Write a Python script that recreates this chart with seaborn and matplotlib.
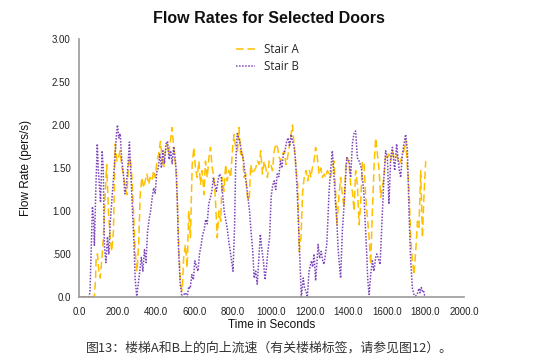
#!/usr/bin/env python
# Flow rates on the two stairs, redrawn with seaborn

import numpy as np
import pandas as pd
import seaborn as sns
import matplotlib.pyplot as plt

# Stair A (yellow, dashed): time in s, flow in pers/s
time_a = [0, 80, 86, 89, 96, 103, 110, 118, 127, 136, 144, 153, 162, 170, 179, 188, 197, 205,
          214, 223, 231, 240, 249, 257, 266, 275, 283, 292, 301, 310, 318, 327, 336, 344, 353,
          362, 370, 379, 388, 396, 405, 414, 423, 431, 440, 449, 457, 466, 475, 483, 492, 501,
          510, 518, 527, 536, 544, 553, 562, 570, 579, 588, 597, 605, 614, 623, 631, 640, 649,
          657, 666, 675, 683, 692, 701, 710, 718, 727, 736, 744, 753, 762, 770, 779, 788, 797,
          805, 814, 823, 831, 840, 849, 857, 866, 875, 884, 892, 901, 910, 918, 927, 936, 944,
          953, 962, 970, 979, 988, 997, 1005, 1014, 1023, 1031, 1040, 1049, 1057, 1066, 1075,
          1083, 1092, 1101, 1109, 1118, 1127, 1136, 1144, 1153, 1162, 1170, 1179, 1188, 1197,
          1205, 1212, 1221, 1229, 1238, 1247, 1256, 1264, 1273, 1281, 1290, 1299, 1307, 1316,
          1325, 1333, 1339, 1351, 1359, 1368, 1377, 1386, 1394, 1403, 1411, 1420, 1429, 1437,
          1446, 1455, 1463, 1472, 1481, 1489, 1498, 1507, 1515, 1524, 1533, 1541, 1550, 1559,
          1567, 1576, 1584, 1593, 1602, 1610, 1619, 1628, 1636, 1650, 1662, 1671, 1680, 1688,
          1697, 1706, 1714, 1723, 1732, 1740, 1749, 1758, 1766, 1775, 1784, 1792, 1801]
rate_a = [0, 0, 0.2, 0.46, 0.5, 0.3, 0.22, 0.42, 0.69, 1.19, 1.54, 1.0, 0.69, 0.53, 0.77, 1.78, 1.58, 1.62,
          1.7, 1.5, 1.43, 1.27, 1.19, 1.54, 1.62, 1.39, 1.0, 0.53, 0.3, 0.61, 1.19, 1.39, 1.27, 1.35, 1.43,
          1.31, 1.39, 1.35, 1.47, 1.39, 1.58, 1.66, 1.81, 1.62, 1.5, 1.7, 1.78, 1.66, 1.81, 1.97, 1.74, 1.54,
          1.16, 0.61, 0.15, 0.07, 0.46, 0.61, 0.34, 1.0, 0.69, 1.54, 1.74, 1.5, 1.39, 1.58, 1.31, 1.47, 1.19,
          1.58, 1.39, 1.62, 1.74, 1.5, 1.39, 1.08, 0.69, 1.0, 0.88, 1.39, 1.23, 1.54, 1.35, 1.47, 1.39, 1.7,
          1.89, 1.74, 1.7, 1.97, 1.66, 1.7, 1.39, 1.43, 1.16, 1.12, 1.54, 1.43, 1.47, 1.5, 1.58, 1.54, 1.7,
          1.43, 1.58, 1.5, 1.39, 1.58, 1.54, 1.47, 1.7, 1.78, 1.74, 1.62, 1.58, 1.66, 1.7, 1.54,
          1.62, 1.74, 1.89, 2.0, 1.74, 1.5, 1.31, 0.53, 0.69, 1.23, 1.39, 1.47, 1.35, 1.47,
          1.39, 1.5, 1.58, 1.74, 1.62, 1.43, 1.5, 1.39, 1.43, 1.39, 1.47, 1.43, 1.39, 1.5,
          1.58, 1.23, 0.84, 1.19, 1.39, 1.19, 1.04, 1.54, 1.62, 1.54, 1.31, 1.23, 1.0, 1.47,
          1.31, 0.84, 1.08, 1.58, 1.54, 1.16, 0.92, 0.69, 0.38, 1.0, 1.54, 1.85, 1.66, 1.47,
          1.16, 1.27, 1.39, 1.66, 1.62, 1.66, 1.58, 1.7, 1.62, 1.66, 1.54, 1.58, 1.66, 1.7,
          1.82, 1.5, 1.27, 0.69, 0.42, 0.26, 0.53, 0.88, 0.81, 1.47, 0.69, 1.19, 1.58]

# Stair B (purple, dotted)
time_b = [0, 50, 57, 64, 70, 76, 80, 88, 95, 100, 106, 112, 120, 126, 132, 140, 148, 155, 162,
          170, 178, 186, 195, 200, 207, 214, 222, 230, 238, 246, 255, 262, 270, 278, 286, 292,
          300, 308, 316, 324, 332, 340, 348, 356, 364, 372, 380, 388, 396, 404, 412, 420, 428,
          436, 444, 452, 460, 468, 476, 484, 492, 500, 506, 512, 518, 526, 535, 545, 553, 562,
          570, 578, 586, 594, 602, 610, 618, 626, 634, 642, 650, 658, 666, 674, 682, 690, 698,
          706, 714, 722, 730, 738, 746, 754, 762, 770, 778, 786, 794, 800, 808, 814, 822, 830,
          838, 846, 854, 862, 870, 878, 886, 894, 902, 910, 918, 926, 934, 942, 950, 958, 966,
          974, 982, 990, 998, 1006, 1014, 1022, 1030, 1038, 1046, 1054, 1062, 1070, 1078, 1086,
          1094, 1102, 1110, 1118, 1125, 1134, 1141, 1148, 1155, 1165, 1172, 1179, 1186, 1195,
          1207, 1214, 1221, 1229, 1236, 1242, 1250, 1258, 1266, 1273, 1280, 1287, 1293, 1299,
          1307, 1316, 1325, 1332, 1339, 1345, 1351, 1359, 1368, 1375, 1380, 1391, 1403, 1411,
          1420, 1429, 1437, 1446, 1455, 1467, 1474, 1481, 1488, 1494, 1500, 1507, 1515, 1524,
          1532, 1541, 1547, 1553, 1564, 1571, 1578, 1584, 1593, 1602, 1610, 1619, 1628, 1640,
          1650, 1662, 1671, 1680, 1688, 1697, 1706, 1714, 1723, 1732, 1740, 1748, 1754, 1760,
          1766, 1772, 1778, 1784, 1789, 1795, 1801]
rate_b = [0, 0, 0.05, 0.6, 1.05, 0.9, 0.6, 1.3, 1.78, 1.5, 1.3, 1.1, 1.7, 1.5, 0.6, 0.4, 0.7, 0.5, 0.85,
          1.1, 1.35, 1.6, 1.9, 2.0, 1.85, 1.9, 1.6, 1.45, 1.2, 1.3, 1.55, 1.8, 1.4, 1.0, 0.6, 0.2,
          0.01, 0.15, 0.3, 0.46, 0.3, 0.55, 0.4, 0.75, 0.9, 1.0, 1.15, 1.27, 1.2, 1.45, 1.5, 1.66, 1.5,
          1.7, 1.55, 1.78, 1.81, 1.6, 1.7, 1.55, 1.75, 1.6, 1.45, 1.0, 0.5, 0.15, 0.0, 0.03, 0.05, 0.0,
          0.12, 0.1, 0.26, 0.2, 0.42, 0.35, 0.3, 0.5, 0.6, 0.72, 0.78, 0.9, 0.85, 1.08, 1.15, 1.23, 1.39,
          1.3, 1.23, 1.35, 1.43, 1.4, 1.2, 1.0, 0.9, 0.8, 0.65, 0.53, 0.4, 0.3, 0.8, 1.55, 1.9, 1.85,
          1.78, 1.66, 1.6, 1.45, 1.3, 1.15, 1.0, 0.75, 0.55, 0.22, 0.3, 0.15, 0.45, 0.73, 0.55, 0.42, 0.2,
          0.35, 0.55, 0.69, 1.16, 1.3, 1.35, 1.25, 1.43, 1.4, 1.58, 1.5, 1.66, 1.7, 1.8, 1.85,
          1.75, 1.89, 1.8, 1.75, 1.58, 1.2, 0.8, 0.42, 0.0, 0.22, 0.1, 0.07, 0.0, 0.3,
          0.42, 0.35, 0.5, 0.19, 0.4, 0.61, 0.45, 0.53, 0.42, 0.38, 0.5, 0.61, 0.9, 1.23,
          1.47, 1.7, 1.39, 1.1, 0.92, 0.6, 0.42, 0.22, 0.77, 1.0, 1.19, 1.62, 1.58, 1.39,
          1.78, 1.91, 1.93, 1.62, 1.58, 1.5, 1.35, 1.16, 0.8, 0.53, 0.2, 0.03, 0.26, 0.42,
          0.3, 0.46, 0.5, 0.46, 0.38, 0.73, 1.1, 1.39, 1.7, 1.62, 1.08, 1.62, 1.74, 1.47,
          1.78, 1.5, 1.39, 1.66, 1.78, 1.89, 1.7, 1.0, 0.42, 0.1, 0.03, 0.01, 0.03, 0.05,
          0.1, 0.05, 0.11, 0.07, 0.08, 0.02, 0.01]

x_ticks = [0, 200, 400, 600, 800, 1000, 1200, 1400, 1600, 1800, 2000]
x_tick_labels = ['0.0', '200.0', '400.0', '600.0', '800.0', '1000.0', '1200.0',
                 '1400.0', '1600.0', '1800.0', '2000.0']
y_ticks = [0, 0.5, 1.0, 1.5, 2.0, 2.5, 3.0]
y_tick_labels = ['0.0', '.500', '1.00', '1.50', '2.00', '2.50', '3.00']

caption = '图13：楼梯A和B上的向上流速（有关楼梯标签，请参见图12）。'

df_a = pd.DataFrame({'time': time_a, 'rate': rate_a})
df_b = pd.DataFrame({'time': time_b, 'rate': rate_b})

sns.set_style('white')
plt.rcParams['font.family'] = ['Liberation Sans', 'DejaVu Sans']

fig = plt.figure(figsize=(5.38, 3.6), dpi=100)
ax = fig.add_axes([0.1468, 0.175, 0.7157, 0.7167])

sns.lineplot(data=df_a, x='time', y='rate', ax=ax, color='#FFC000',
             linestyle=(0, (5, 2.5)), linewidth=1.1, label='Stair A')
sns.lineplot(data=df_b, x='time', y='rate', ax=ax, color='#7A44B8',
             linestyle=(0, (1, 1)), linewidth=1.1, label='Stair B')

ax.set_xlim(0, 2000)
ax.set_ylim(0, 3.0)
ax.set_xticks(x_ticks)
ax.set_xticklabels(x_tick_labels)
ax.set_yticks(y_ticks)
ax.set_yticklabels(y_tick_labels)
ax.tick_params(axis='x', direction='inout', length=6, width=1, color='#333333',
               labelsize=7, labelcolor='#222222', pad=4)
ax.tick_params(axis='y', direction='out', length=4, width=1, color='#333333',
               labelsize=7, labelcolor='#222222', pad=2)

for side in ['top', 'right']:
    ax.spines[side].set_visible(False)
for side in ['left', 'bottom']:
    ax.spines[side].set_color('#999999')
    ax.spines[side].set_linewidth(1.2)

ax.set_xlabel('Time in Seconds', fontsize=8.5, color='#111111', labelpad=2)
ax.set_ylabel('Flow Rate (pers/s)', fontsize=8.5, color='#111111', labelpad=14)

fig.text(0.5, 0.948, 'Flow Rates for Selected Doors', ha='center', va='center',
         fontsize=11.5, fontweight='bold', color='#111111')

ax.legend(loc='upper center', bbox_to_anchor=(0.49, 1.025), frameon=False,
          prop={'family': 'Open Sans', 'size': 8.3}, handlelength=1.6,
          handletextpad=0.8, labelspacing=0.35)

fig.text(0.5, 0.033, caption, ha='center', va='center', fontsize=9.3,
         color='#333333', family=['Noto Sans CJK SC', 'DejaVu Sans'])

fig.savefig('out.png', dpi=100, facecolor='white')
